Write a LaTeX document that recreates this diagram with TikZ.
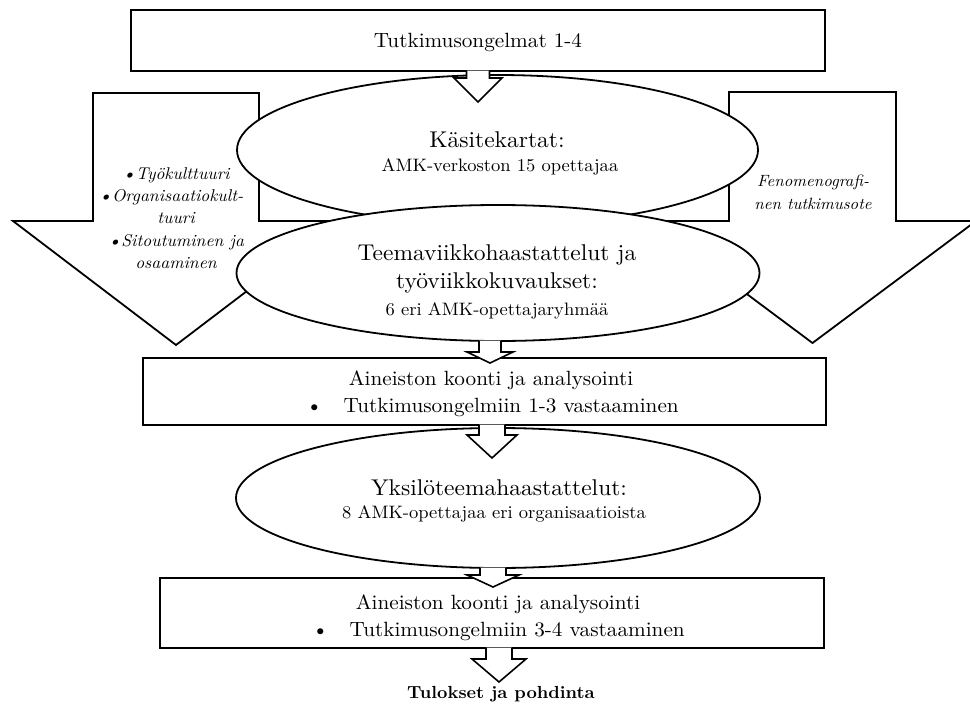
\documentclass[tikz,border=0pt]{standalone}
\usepackage{fontspec}
\setmainfont{lmroman10-regular.otf}[
  ItalicFont=lmroman10-italic.otf,
  BoldFont=lmroman10-bold.otf,
  FakeStretch=1.03]
\usetikzlibrary{shapes.geometric,calc}

\newcommand{\setfs}[1]{\fontsize{#1}{#1}\selectfont}

% block arrow leaving node #1 and ending at coordinate #2
% #3 shaft half width, #4 head half width, #5 head length
\newcommand{\blockarrow}[5]{%
  \draw[blockarr]
    ($(#1.south -| #2)+(-#3,-1.2)$) -- ($(#2)+(-#3,-#5)$) -- ($(#2)+(-#4,-#5)$)
    -- (#2) -- ($(#2)+(#4,-#5)$) -- ($(#2)+(#3,-#5)$) -- ($(#1.south -| #2)+(#3,-1.2)$);
}

\tikzset{
  box/.style={draw, rectangle, line width=1.8pt, fill=white, inner sep=0pt},
  oval/.style={draw, ellipse, line width=1.8pt, fill=white, inner sep=0pt},
  sidearrow/.style={draw, line width=1.8pt, fill=white, line join=miter},
  blockarr/.style={draw, line width=1.6pt, fill=white, line join=miter},
  lbl/.style={anchor=base, inner sep=0pt},
  big/.style={font=\setfs{22.8}},
  mid/.style={font=\setfs{20.6}},
  small/.style={font=\setfs{18}},
  side/.style={font=\itshape\setfs{17}},
}

\begin{document}
\begin{tikzpicture}[x=1pt,y=-1pt]
\useasboundingbox (0,0) rectangle (970,704);
\clip (0,0) rectangle (970,704);

% wide side arrows behind the ovals
\draw[sidearrow] (93,93) -- (259,93) -- (259,221) -- (339,221) -- (176,345)
  -- (13,221) -- (93,221) -- cycle;
\draw[sidearrow] (729,92) -- (896,92) -- (896,221) -- (976,221) -- (812.5,343)
  -- (649,221) -- (729,221) -- cycle;

% main chain of boxes and ovals
\node[box, minimum width=694, minimum height=61] (b1) at (478,40.5) {};
\node[oval, minimum width=521, minimum height=150] (e1) at (497.5,150) {};
\node[oval, minimum width=523, minimum height=136] (e2) at (498,273) {};
\node[box, minimum width=683, minimum height=67] (b2) at (484.5,391.5) {};
\node[oval, minimum width=524, minimum height=140] (e3) at (498,498) {};
\node[box, minimum width=664, minimum height=70] (b3) at (492,613) {};

% arrow tips
\coordinate (t1) at (478,102);
\coordinate (t2) at (490,363);
\coordinate (t3) at (492,458);
\coordinate (t4) at (493,587);
\coordinate (t5) at (499,682);

\blockarrow{b1}{t1}{11.5}{24}{24}
\blockarrow{e2}{t2}{11}{23}{11}
\blockarrow{b2}{t3}{13}{25}{23}
\blockarrow{e3}{t4}{13}{26}{12}
\blockarrow{b3}{t5}{13}{27}{23}

% texts
\node[lbl, mid] (b1t) at (478,47) {Tutkimusongelmat 1-4};

\node[lbl, big] (e1a) at (497,147) {Käsitekartat:};
\node[lbl, small] (e1b) at (500,171) {AMK-verkoston 15 opettajaa};

\node[lbl, big] (e2a) at (497,260) {Teemaviikkohaastattelut ja};
\node[lbl, big] (e2b) at (497,288) {työviikkokuvaukset:};
\node[lbl, small] (e2c) at (497,315) {6 eri AMK-opettajaryhmää};

\node[lbl, mid] (b2a) at (491,385) {Aineiston koonti ja analysointi};
\node[lbl, mid, anchor=base west] (b2b) at (306,412)
  {\textbullet\hspace{21pt}Tutkimusongelmiin 1-3 vastaaminen};

\node[lbl, big] (e3a) at (499,495) {Yksilöteemahaastattelut:};
\node[lbl, small] (e3b) at (494,518) {8 AMK-opettajaa eri organisaatioista};

\node[lbl, mid] (b3a) at (498,609) {Aineiston koonti ja analysointi};
\node[lbl, mid, anchor=base west] (b3b) at (312,636)
  {\textbullet\hspace{21pt}Tutkimusongelmiin 3-4 vastaaminen};

\node[lbl, font=\bfseries\setfs{17.5}] (res) at (501,698) {Tulokset ja pohdinta};

% labels inside the side arrows
\node[lbl, side] (l1) at (176,179) {\textbullet Työkulttuuri};
\node[lbl, side] (l2) at (171,201) {\textbullet Organisaatiokult-};
\node[lbl, side] (l3) at (176,223) {tuuri};
\node[lbl, side] (l4) at (176,246) {\textbullet Sitoutuminen ja};
\node[lbl, side] (l5) at (176,268) {osaaminen};

\node[lbl, font=\itshape\setfs{16.3}] (r1) at (813,186) {Fenomenografi-};
\node[lbl, font=\itshape\setfs{16.3}] (r2) at (813,209) {nen tutkimusote};
\end{tikzpicture}
\end{document}
